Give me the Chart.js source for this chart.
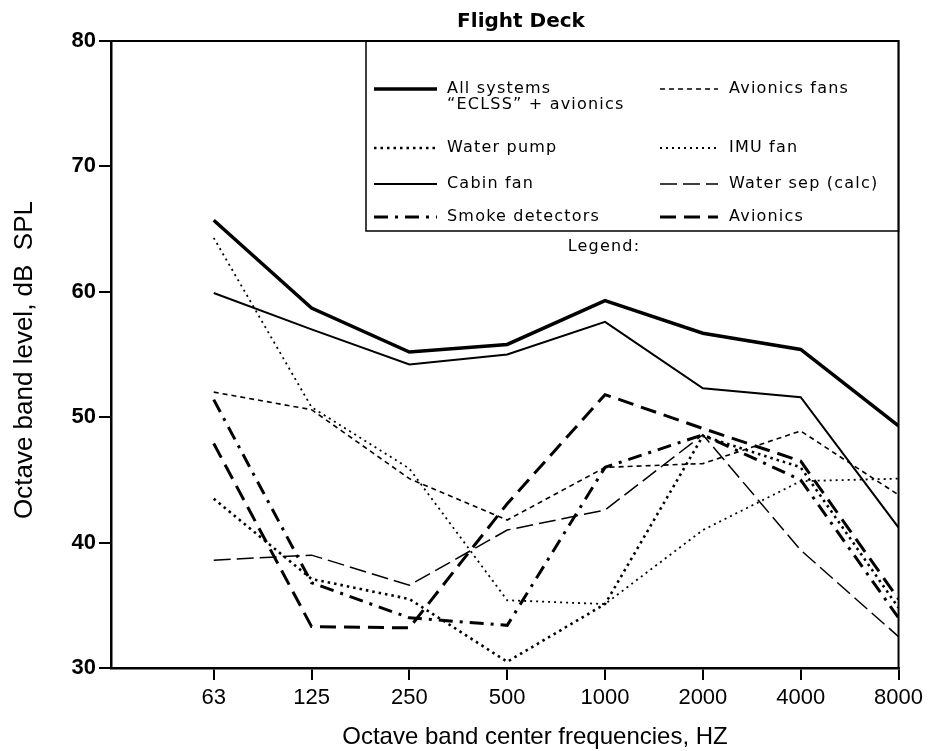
<!DOCTYPE html>
<html>
<head>
<meta charset="utf-8">
<script src="https://cdn.jsdelivr.net/npm/chart.js@4.4.1/dist/chart.umd.min.js"></script>
<style>
  html, body { margin: 0; padding: 0; background: #fff; }
  #wrap { width: 928px; height: 751px; }
</style>
</head>
<body>
<div id="wrap"><canvas id="chart" width="928" height="751"></canvas></div>
<script>
// octave band centre frequencies (Hz)
const frequencies = ['63', '125', '250', '500', '1000', '2000', '4000', '8000'];

// octave band levels, dB SPL
const allSystems     = [65.7, 58.7, 55.2, 55.8, 59.3, 56.7, 55.4, 49.3];
const waterPump      = [43.5, 37.1, 35.5, 30.5, 35.1, 48.5, 46.0, 34.8];
const cabinFan       = [59.9, 57.0, 54.2, 55.0, 57.6, 52.3, 51.6, 41.2];
const smokeDetectors = [51.4, 36.8, 34.0, 33.4, 46.0, 48.6, 45.0, 34.0];
const avionicsFans   = [52.0, 50.6, 45.1, 41.8, 46.0, 46.3, 48.9, 43.8];
const imuFan         = [64.3, 50.8, 45.9, 35.4, 35.1, 41.0, 44.9, 45.1];
const waterSep       = [38.6, 39.0, 36.6, 41.0, 42.6, 48.6, 39.4, 32.5];
const avionics       = [47.9, 33.3, 33.2, 43.1, 51.8, 49.1, 46.5, 35.5];

const BLACK = '#000';
const TXT = '"DejaVu Sans", "Liberation Sans", sans-serif';
const SANS = '"Liberation Sans", Arial, sans-serif';

function series(label, values, width, dash, col, row) {
    return {
        label: label,
        data: values.map((v, i) => ({ x: i, y: v })),
        borderColor: BLACK,
        borderWidth: width,
        borderDash: dash,
        pointRadius: 0,
        tension: 0,
        fill: false,
        legendCol: col,
        legendRow: row
    };
}

const datasets = [
    series('All systems\n\u201CECLSS\u201D + avionics', allSystems, 3.5, [], 0, 0),
    series('Water pump', waterPump, 2.6, [2.5, 4], 0, 1),
    series('Cabin fan', cabinFan, 2, [], 0, 2),
    series('Smoke detectors', smokeDetectors, 3, [14, 7, 3, 7], 0, 3),
    series('Avionics fans', avionicsFans, 1.6, [5, 4], 1, 0),
    series('IMU fan', imuFan, 1.8, [2, 4], 1, 1),
    series('Water sep (calc)', waterSep, 1.5, [17, 6], 1, 2),
    series('Avionics', avionics, 3, [16, 8], 1, 3)
];

// legend box, titles and the frame round the plot
const decorations = {
    id: 'decorations',
    afterDraw(chart) {
        const ctx = chart.ctx;
        const a = chart.chartArea;
        ctx.save();
        ctx.strokeStyle = BLACK;
        ctx.lineWidth = 2;
        ctx.strokeRect(a.left, a.top, a.right - a.left, a.bottom - a.top);

        // legend box
        const box = { left: 366, top: a.top, right: a.right, bottom: 231 };
        ctx.lineWidth = 1.5;
        ctx.strokeRect(box.left, box.top, box.right - box.left, box.bottom - box.top);

        const rows = [89, 148, 184, 217];
        const cols = [{ x0: 374, x1: 437, tx: 447 }, { x0: 660, x1: 718, tx: 729 }];
        ctx.fillStyle = BLACK;
        ctx.font = '16px ' + TXT;
        ctx.textBaseline = 'middle';
        ctx.textAlign = 'left';
        if ('letterSpacing' in ctx) ctx.letterSpacing = '1.2px';
        chart.data.datasets.forEach(ds => {
            const c = cols[ds.legendCol];
            const y = rows[ds.legendRow];
            ctx.beginPath();
            ctx.lineWidth = ds.borderWidth;
            ctx.setLineDash(ds.borderDash);
            ctx.moveTo(c.x0, y);
            ctx.lineTo(c.x1, y);
            ctx.stroke();
            ctx.setLineDash([]);
            ds.label.split('\n').forEach((line, k) => {
                ctx.fillText(line, c.tx, y + k * 16);
            });
        });
        ctx.textAlign = 'center';
        ctx.fillText('Legend:', 604, 247);

        // chart title
        ctx.font = 'bold 20px ' + TXT;
        if ('letterSpacing' in ctx) ctx.letterSpacing = '0px';
        ctx.fillText('Flight Deck', 521, 22);

        // axis titles
        ctx.font = '24px ' + SANS;
        ctx.fillText('Octave band center frequencies, HZ', 535, 737);
        ctx.font = '26px ' + SANS;
        ctx.translate(25, 360);
        ctx.rotate(-Math.PI / 2);
        ctx.fillText('Octave band level, dB  SPL', 0, 0);
        ctx.restore();
    }
};

new Chart(document.getElementById('chart'), {
    type: 'line',
    data: { datasets: datasets },
    options: {
        responsive: false,
        devicePixelRatio: 1,
        animation: false,
        layout: { padding: { left: 0, top: 41, right: 29, bottom: 0 } },
        plugins: {
            legend: { display: false },
            tooltip: { enabled: false }
        },
        scales: {
            x: {
                type: 'linear',
                min: -1.05,
                max: 7,
                afterBuildTicks: s => { s.ticks = frequencies.map((f, i) => ({ value: i })); },
                afterFit: s => { s.height = 83; },
                ticks: {
                    callback: v => frequencies[v],
                    color: BLACK,
                    padding: 5,
                    maxRotation: 0,
                    font: { family: SANS, size: 22 }
                },
                grid: { drawOnChartArea: false, drawTicks: true, tickLength: 12, color: BLACK, lineWidth: 2 },
                border: { display: true, color: BLACK, width: 2.5 }
            },
            y: {
                min: 30,
                max: 80,
                afterFit: s => { s.width = 111; },
                ticks: {
                    stepSize: 10,
                    color: BLACK,
                    padding: 3,
                    font: { family: SANS, size: 22, weight: 'bold' }
                },
                grid: { drawOnChartArea: false, drawTicks: true, tickLength: 12, color: BLACK, lineWidth: 2 },
                border: { display: true, color: BLACK, width: 2.5 }
            }
        }
    },
    plugins: [decorations]
});
</script>
</body>
</html>
